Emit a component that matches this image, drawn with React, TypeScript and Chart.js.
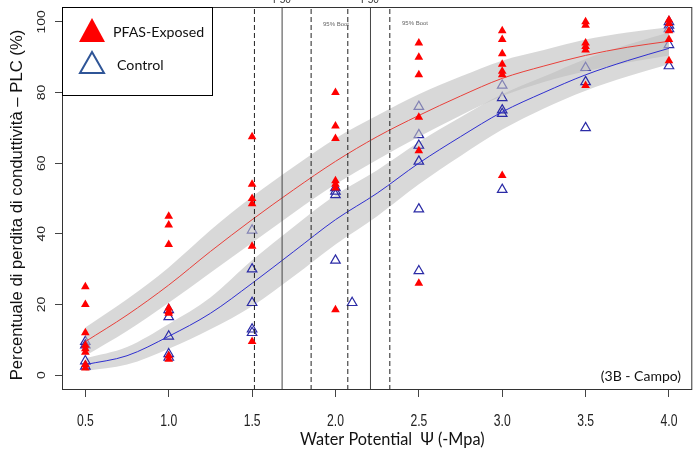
import React, { useEffect, useRef } from "react";
import { Chart, registerables } from "chart.js";

Chart.register(...registerables);

// ---- data ----
const X_LEVELS = [0.5, 1.0, 1.5, 2.0, 2.5, 3.0, 3.5, 4.0];

const PFAS_VALUES = [
  [25, 20, 12, 8.5, 7.5, 6.5, 3, 2],
  [45, 42.5, 37, 19, 18, 17.5, 5.5, 4.5],
  [67.5, 54, 50, 48.5, 36.5, 9.5],
  [80, 70.5, 67, 55, 54, 53, 18.5],
  [94, 90, 85, 73, 63.5, 26],
  [97.5, 95, 91, 88, 86, 85, 56.5],
  [100, 99, 94, 93, 92, 82],
  [100.5, 99.5, 97.5, 95, 89],
];

const CONTROL_VALUES = [
  [9.5, 8.5, 4, 2.5],
  [18.5, 16.5, 11, 6, 5],
  [41, 30, 20.5, 13, 12],
  [53, 52, 51, 32.5],
  [76, 68, 65, 60.5, 47, 29.5],
  [82, 78.5, 75, 74, 52.5],
  [87, 83, 70],
  [100, 99, 98, 93.5, 87.5],
];
const CONTROL_EXTRA_X = [2.1];
const CONTROL_EXTRA_Y = [20.5];

const FIT_X = [0.5, 0.75, 1.0, 1.25, 1.5, 1.75, 2.0, 2.25, 2.5, 2.75, 3.0, 3.25, 3.5, 3.75, 4.0];
const PFAS_FIT = [9.5, 17, 25.5, 35, 44, 52.5, 60.5, 67.5, 73.5, 79, 84, 87.5, 90.5, 92.8, 94.5];
const PFAS_LO = [5.5, 12.5, 20.5, 29, 37.5, 46, 54, 61, 67.5, 73.5, 79, 83, 86, 88.5, 90.5];
const PFAS_HI = [13.5, 21.5, 30.5, 41, 50.5, 59, 67, 73.5, 79.5, 84.5, 89, 92, 95, 97, 98.5];
const CONTROL_FIT = [3, 5.5, 11, 17.5, 26, 35, 44, 51.5, 60, 67.5, 74.5, 80, 85, 89, 92.5];
const CONTROL_LO = [1.2, 3, 7.5, 13, 19.5, 28, 37, 45, 54, 62, 69.5, 75.5, 80.5, 84.5, 88];
const CONTROL_HI = [4.8, 8, 14.5, 22, 32.5, 42, 51, 58, 66, 73, 79.5, 84.5, 89.5, 93.5, 97];

const P50_LINES = [1.68, 2.21];
const CI_LINES = [1.514, 1.854, 2.074, 2.326];

const X_TICKS = [0.5, 1.0, 1.5, 2.0, 2.5, 3.0, 3.5, 4.0];
const Y_TICKS = [0, 20, 40, 60, 80, 100];
const X_RANGE = [0.36, 4.14];
const Y_RANGE = [-4.2, 104.2];

const LEGEND_LABELS = ["PFAS-Exposed", "Control"];
const Y_TITLE = "Percentuale di perdita di conduttività – PLC (%)";
const X_TITLE = "Water Potential  Ψ (-Mpa)";
const PANEL_LABEL = "(3B - Campo)";
const BOOT_LABEL = "95% Boot";

const RED = "#ff0000";
const BLUE_PT = "#2b2ba6";
const BAND_CONTROL = "#d9d9d9";
const BAND_PFAS = "rgba(190,190,190,0.6)";
const SANS = '"Liberation Sans", Arial, sans-serif';
const CAL = 'Lato, "Open Sans", sans-serif';

const toPts = (xs: number[], ys: number[]) => xs.map((x, i) => ({ x, y: ys[i] }));

const overlay = {
  id: "overlay",
  afterDraw(chart: any) {
    const ctx = chart.ctx;
    const { left, right, top, bottom } = chart.chartArea;
    const ys = chart.scales.y;
    const xs = chart.scales.x;
    ctx.save();
    // box
    ctx.strokeStyle = "#333";
    ctx.lineWidth = 1;
    ctx.strokeRect(left + 0.5, top + 0.5, right - left - 1, bottom - top - 1);

    // y tick labels (rotated, condensed)
    ctx.fillStyle = "#222";
    ctx.font = "14px " + SANS;
    ctx.textAlign = "center";
    ctx.textBaseline = "middle";
    Y_TICKS.forEach((v) => {
      const py = ys.getPixelForValue(v);
      ctx.save();
      ctx.translate(42, py);
      ctx.scale(0.78, 1);
      ctx.rotate(-Math.PI / 2);
      ctx.fillText(String(v), 0, 0);
      ctx.restore();
    });

    // x tick labels (condensed)
    ctx.font = "16px " + SANS;
    X_TICKS.forEach((v) => {
      const px = xs.getPixelForValue(v);
      ctx.save();
      ctx.translate(px, 422);
      ctx.scale(0.76, 1);
      ctx.fillText(v.toFixed(1), 0, 0);
      ctx.restore();
    });

    // y title
    ctx.save();
    ctx.translate(17, 205);
    ctx.rotate(-Math.PI / 2);
    ctx.font = "16.7px " + SANS;
    ctx.fillStyle = "#111";
    ctx.fillText(Y_TITLE, 0, 0);
    ctx.restore();

    // x title
    ctx.font = "16.3px " + CAL;
    ctx.textAlign = "left";
    ctx.textBaseline = "alphabetic";
    ctx.fillStyle = "#111";
    ctx.fillText(X_TITLE, 300, 445);

    // panel label
    ctx.font = "14px " + CAL;
    ctx.textAlign = "right";
    ctx.fillText(PANEL_LABEL, 681, 381);

    // boot labels
    ctx.font = "6px " + SANS;
    ctx.textAlign = "left";
    ctx.fillStyle = "#666";
    ctx.fillText(BOOT_LABEL, 323, 26);
    ctx.fillText(BOOT_LABEL, 402, 25);

    // cut P50 labels at top
    ctx.font = "10px " + SANS;
    ctx.fillStyle = "#333";
    ctx.fillText("P50", 273, 3);
    ctx.fillText("P50", 361, 3);

    // legend
    ctx.fillStyle = "#fff";
    ctx.fillRect(left, top, 150, 88);
    ctx.strokeStyle = "#000";
    ctx.lineWidth = 1;
    ctx.strokeRect(left + 0.5, top + 0.5, 150, 88);
    ctx.beginPath();
    ctx.moveTo(92, 18);
    ctx.lineTo(105, 42);
    ctx.lineTo(79, 42);
    ctx.closePath();
    ctx.fillStyle = RED;
    ctx.fill();
    ctx.beginPath();
    ctx.moveTo(92, 52);
    ctx.lineTo(104, 73);
    ctx.lineTo(80, 73);
    ctx.closePath();
    ctx.strokeStyle = "#2f5597";
    ctx.lineWidth = 2;
    ctx.stroke();
    ctx.fillStyle = "#111";
    ctx.font = "14.2px " + CAL;
    ctx.fillText(LEGEND_LABELS[0], 113, 37);
    ctx.fillText(LEGEND_LABELS[1], 117, 70);
    ctx.restore();
  },
};

export default function App() {
  const ref = useRef<HTMLCanvasElement | null>(null);
  useEffect(() => {
    if (!ref.current) return;
    const pfasPts = X_LEVELS.flatMap((x, i) => PFAS_VALUES[i].map((y) => ({ x, y })));
    const ctrlPts = X_LEVELS.flatMap((x, i) => CONTROL_VALUES[i].map((y) => ({ x, y }))).concat(
      toPts(CONTROL_EXTRA_X, CONTROL_EXTRA_Y)
    );
    const bandCommon = {
      showLine: true,
      pointRadius: 0,
      borderWidth: 0,
      borderColor: "rgba(0,0,0,0)",
      cubicInterpolationMode: "monotone",
    };
    const vline = (x: number, dashed: boolean) => ({
      data: [
        { x, y: Y_RANGE[0] },
        { x, y: Y_RANGE[1] },
      ],
      showLine: true,
      pointRadius: 0,
      borderColor: dashed ? "#222" : "#444",
      borderWidth: 1,
      borderDash: dashed ? [5, 3] : [],
      order: 2,
    });
    const chart = new Chart(ref.current, {
      type: "scatter",
      data: {
        datasets: [
          {
            label: "Control",
            data: ctrlPts,
            pointStyle: "triangle",
            pointRadius: 5.5,
            borderColor: BLUE_PT,
            backgroundColor: "rgba(0,0,0,0)",
            borderWidth: 1.2,
            order: 6,
          },
          { ...bandCommon, data: toPts(FIT_X, PFAS_LO), fill: false, order: 5 },
          { ...bandCommon, data: toPts(FIT_X, PFAS_HI), fill: "-1", backgroundColor: BAND_PFAS, order: 5 },
          { ...bandCommon, data: toPts(FIT_X, CONTROL_LO), fill: false, order: 7 },
          { ...bandCommon, data: toPts(FIT_X, CONTROL_HI), fill: "-1", backgroundColor: BAND_CONTROL, order: 7 },
          ...CI_LINES.map((x) => vline(x, true)),
          ...P50_LINES.map((x) => vline(x, false)),
          {
            data: toPts(FIT_X, PFAS_FIT),
            showLine: true,
            pointRadius: 0,
            borderColor: "#e8403a",
            borderWidth: 1,
            cubicInterpolationMode: "monotone",
            order: 3,
          },
          {
            data: toPts(FIT_X, CONTROL_FIT),
            showLine: true,
            pointRadius: 0,
            borderColor: "#2f2fd0",
            borderWidth: 1,
            cubicInterpolationMode: "monotone",
            order: 3,
          },
          {
            label: "PFAS-Exposed",
            data: pfasPts,
            pointStyle: "triangle",
            pointRadius: 5,
            borderColor: RED,
            backgroundColor: RED,
            borderWidth: 0,
            order: 1,
          },
        ],
      } as any,
      options: {
        responsive: false,
        animation: false,
        layout: { padding: { top: 7, right: 6, left: 0, bottom: 0 } },
        plugins: { legend: { display: false }, tooltip: { enabled: false } },
        scales: {
          x: {
            type: "linear",
            min: X_RANGE[0],
            max: X_RANGE[1],
            afterBuildTicks: (s: any) => {
              s.ticks = X_TICKS.map((v) => ({ value: v }));
            },
            afterFit: (s: any) => {
              s.height = 60;
            },
            ticks: { display: false },
            grid: { drawOnChartArea: false, drawTicks: true, tickLength: 7, color: "#444" },
            border: { display: false },
          },
          y: {
            type: "linear",
            min: Y_RANGE[0],
            max: Y_RANGE[1],
            afterBuildTicks: (s: any) => {
              s.ticks = Y_TICKS.map((v) => ({ value: v }));
            },
            afterFit: (s: any) => {
              s.width = 62;
            },
            ticks: { display: false },
            grid: { drawOnChartArea: false, drawTicks: true, tickLength: 7, color: "#444" },
            border: { display: false },
          },
        },
      } as any,
      plugins: [overlay],
    });
    return () => chart.destroy();
  }, []);
  return (
    <div style={{ position: "absolute", left: 0, top: 0, width: 699, height: 450, background: "#fff" }}>
      <canvas ref={ref} width={699} height={450} />
    </div>
  );
}
